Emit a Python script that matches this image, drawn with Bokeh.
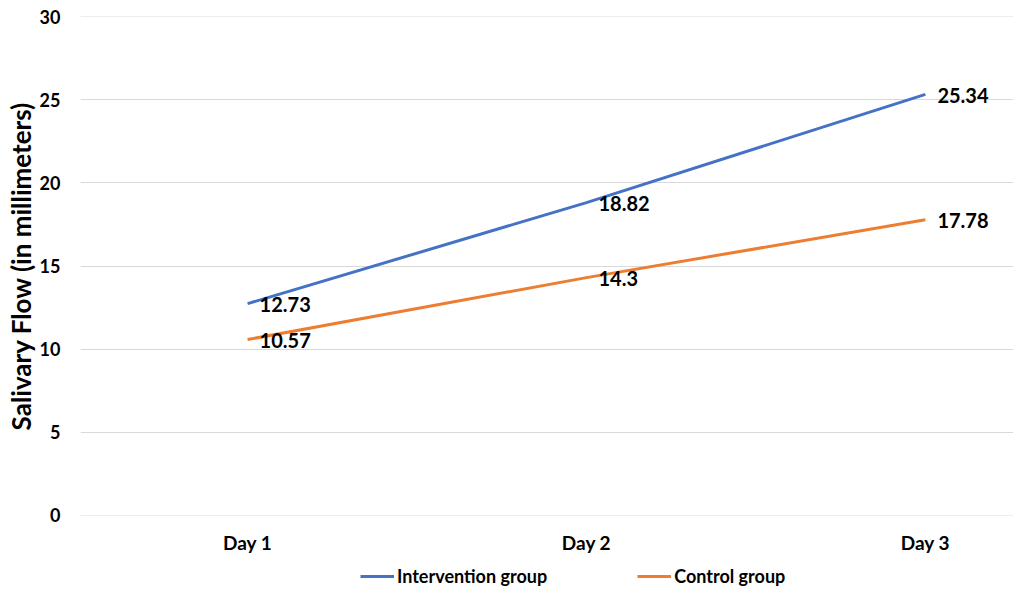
from bokeh.plotting import figure
from bokeh.layouts import column
from bokeh.models import Range1d, FixedTicker, Legend, LegendItem, ColumnDataSource
from bokeh.core.properties import value
from bokeh.embed import file_html
from bokeh.resources import INLINE

days = ["Day 1", "Day 2", "Day 3"]
day_pos = [1, 2, 3]
intervention = [12.73, 18.82, 25.34]
control = [10.57, 14.3, 17.78]
intervention_labels = ["12.73", "18.82", "25.34"]
control_labels = ["10.57", "14.3", "17.78"]
y_ticks = [0, 5, 10, 15, 20, 25, 30]

FONT = "Lato"
BLUE = "#4472C4"
ORANGE = "#ED7D31"

p = figure(width=1013, height=557, output_backend="svg", toolbar_location=None,
           x_range=Range1d(0.507, 3.26), y_range=Range1d(-0.03, 30.03),
           min_border_top=16, min_border_left=80, min_border_right=0,
           min_border_bottom=42)
p.outline_line_color = None
p.background_fill_color = "white"
p.border_fill_color = "white"

src_i = ColumnDataSource(dict(x=day_pos, y=intervention, t=intervention_labels))
src_c = ColumnDataSource(dict(x=day_pos, y=control, t=control_labels))

p.line("x", "y", source=src_i, line_color=BLUE, line_width=3)
p.line("x", "y", source=src_c, line_color=ORANGE, line_width=3)

for src in (src_i, src_c):
    p.text("x", "y", text="t", source=src, x_offset=12, y_offset=1,
           text_baseline="middle", text_align="left",
           text_font=value(FONT), text_font_style="bold",
           text_font_size="20px", text_color="#000000")

p.xaxis.ticker = FixedTicker(ticks=day_pos)
p.xaxis.major_label_overrides = {pos: d for pos, d in zip(day_pos, days)}
p.xaxis.axis_line_color = None
p.xaxis.major_tick_line_color = None
p.xaxis.minor_tick_line_color = None
p.xaxis.major_label_text_font = FONT
p.xaxis.major_label_text_font_style = "bold"
p.xaxis.major_label_text_font_size = "19px"
p.xaxis.major_label_text_color = "#000000"
p.xaxis.major_label_standoff = 9
p.xgrid.grid_line_color = None

p.yaxis.ticker = FixedTicker(ticks=y_ticks)
p.yaxis.axis_line_color = None
p.yaxis.major_tick_line_color = None
p.yaxis.minor_tick_line_color = None
p.yaxis.major_label_text_font = FONT
p.yaxis.major_label_text_font_style = "bold"
p.yaxis.major_label_text_font_size = "18px"
p.yaxis.major_label_text_color = "#000000"
p.yaxis.major_label_standoff = 14
p.yaxis.axis_label = "Salivary Flow (in millimeters)"
p.yaxis.axis_label_text_font = FONT
p.yaxis.axis_label_text_font_style = "bold"
p.yaxis.axis_label_text_font_size = "26px"
p.yaxis.axis_label_text_color = "#000000"
p.yaxis.axis_label_standoff = 0
p.ygrid.grid_line_color = "#d9d9d9"
p.ygrid.grid_line_width = 1

# legend strip below the chart
lg = figure(width=1013, height=36, output_backend="svg", toolbar_location=None,
            x_range=Range1d(0, 1), y_range=Range1d(0, 1),
            x_axis_location=None, y_axis_location=None,
            min_border=0)
lg.outline_line_color = None
lg.xgrid.grid_line_color = None
lg.ygrid.grid_line_color = None
l_i = lg.line("x", "y", source=src_i, line_color=BLUE, line_width=3)
l_c = lg.line("x", "y", source=src_c, line_color=ORANGE, line_width=3)

legend = Legend(items=[LegendItem(label="Intervention group", renderers=[l_i]),
                       LegendItem(label="Control group", renderers=[l_c])],
                orientation="horizontal", location=(280, 6),
                border_line_color=None, background_fill_alpha=0,
                label_text_font=FONT, label_text_font_style="bold",
                label_text_font_size="18px", label_text_color="#000000",
                glyph_width=34, label_standoff=3, spacing=90, padding=0, margin=0)
lg.add_layout(legend)

open("out.html", "w").write(file_html(column(p, lg), INLINE))
